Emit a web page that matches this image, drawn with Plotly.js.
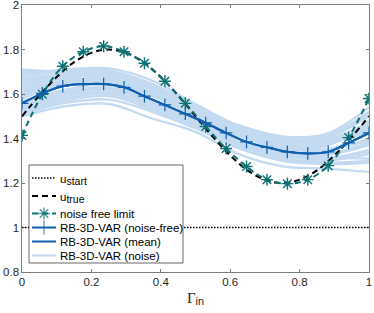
<!DOCTYPE html>
<html>
<head>
<meta charset="utf-8">
<script src="https://cdn.plot.ly/plotly-3.0.1.min.js"></script>
<style>html,body{margin:0;padding:0;background:#fff;}#chart{width:374px;height:313px;}</style>
</head>
<body>
<div id="chart"></div>
<script>
// grid for noise-free limit and RB-3D-VAR (18 points)
const xGrid = [0, 0.0588, 0.1176, 0.1765, 0.2353, 0.2941, 0.3529, 0.4118, 0.4706, 0.5294, 0.5882, 0.6471, 0.7059, 0.7647, 0.8235, 0.8824, 0.9412, 1];
const noiseFreeLimit = [1.414, 1.599, 1.725, 1.79, 1.815, 1.79, 1.738, 1.657, 1.558, 1.454, 1.355, 1.274, 1.215, 1.197, 1.215, 1.278, 1.404, 1.58];
const rbNoiseFree = [1.558, 1.603, 1.635, 1.644, 1.645, 1.630, 1.590, 1.551, 1.511, 1.470, 1.425, 1.385, 1.360, 1.340, 1.333, 1.340, 1.380, 1.425];
const rbMean = [1.558, 1.603, 1.635, 1.644, 1.645, 1.630, 1.590, 1.551, 1.511, 1.470, 1.425, 1.385, 1.360, 1.340, 1.333, 1.340, 1.380, 1.425];

// u_true read at 21 points
const xTrue = [0, 0.05, 0.1, 0.15, 0.2, 0.25, 0.3, 0.35, 0.4, 0.45, 0.5, 0.55, 0.6, 0.65, 0.7, 0.75, 0.8, 0.85, 0.9, 0.95, 1];
const uTrue = [1.5, 1.593, 1.676, 1.743, 1.785, 1.8, 1.785, 1.743, 1.676, 1.593, 1.5, 1.407, 1.324, 1.257, 1.215, 1.2, 1.215, 1.257, 1.324, 1.407, 1.5];

const uStartX = [0, 1];
const uStart = [1, 1];

// noisy runs read at 9 points
const xNoise = [0, 0.125, 0.25, 0.375, 0.5, 0.625, 0.75, 0.875, 1];
const noiseRun1 = [1.71, 1.70, 1.70, 1.64, 1.54, 1.45, 1.39, 1.38, 1.44];
const noiseRun2 = [1.69, 1.71, 1.715, 1.66, 1.555, 1.455, 1.39, 1.40, 1.50];
const noiseRun3 = [1.67, 1.69, 1.70, 1.645, 1.545, 1.46, 1.41, 1.42, 1.54];
const noiseRun4 = [1.65, 1.68, 1.69, 1.63, 1.53, 1.44, 1.39, 1.41, 1.52];
const noiseRun5 = [1.63, 1.67, 1.68, 1.62, 1.525, 1.43, 1.37, 1.37, 1.46];
const noiseRun6 = [1.60, 1.65, 1.665, 1.60, 1.51, 1.415, 1.355, 1.35, 1.42];
const noiseRun7 = [1.58, 1.64, 1.655, 1.59, 1.50, 1.41, 1.36, 1.365, 1.48];
const noiseRun8 = [1.56, 1.62, 1.64, 1.575, 1.485, 1.395, 1.34, 1.33, 1.38];
const noiseRun9 = [1.54, 1.60, 1.62, 1.56, 1.475, 1.385, 1.325, 1.31, 1.35];
const noiseRun10 = [1.52, 1.58, 1.60, 1.54, 1.46, 1.37, 1.31, 1.30, 1.33];
const noiseRun11 = [1.51, 1.56, 1.575, 1.52, 1.445, 1.355, 1.30, 1.285, 1.29];
const noiseRun12 = [1.50, 1.545, 1.555, 1.49, 1.43, 1.33, 1.275, 1.265, 1.25];
const noiseRun13 = [1.68, 1.70, 1.69, 1.62, 1.52, 1.425, 1.36, 1.35, 1.39];
const noiseRun14 = [1.62, 1.66, 1.67, 1.61, 1.52, 1.435, 1.38, 1.385, 1.45];
const noiseRun15 = [1.57, 1.61, 1.625, 1.565, 1.48, 1.39, 1.33, 1.315, 1.31];
const noiseRun16 = [1.66, 1.685, 1.685, 1.625, 1.535, 1.445, 1.385, 1.39, 1.47];
const noiseRun17 = [1.70, 1.705, 1.705, 1.645, 1.545, 1.45, 1.395, 1.395, 1.47];
const noiseRun18 = [1.64, 1.675, 1.685, 1.625, 1.53, 1.44, 1.38, 1.38, 1.43];
const noiseRun19 = [1.61, 1.655, 1.67, 1.605, 1.515, 1.425, 1.37, 1.375, 1.44];
const noiseRun20 = [1.59, 1.645, 1.66, 1.595, 1.505, 1.415, 1.35, 1.345, 1.40];
const noiseRun21 = [1.55, 1.61, 1.63, 1.57, 1.48, 1.39, 1.335, 1.325, 1.37];
const noiseRun22 = [1.53, 1.59, 1.61, 1.55, 1.465, 1.375, 1.32, 1.31, 1.34];
const noiseRun23 = [1.515, 1.57, 1.59, 1.53, 1.45, 1.36, 1.305, 1.29, 1.30];
const noiseRun24 = [1.66, 1.69, 1.695, 1.64, 1.545, 1.455, 1.40, 1.41, 1.51];
const noiseRuns = [noiseRun1, noiseRun2, noiseRun3, noiseRun4, noiseRun5, noiseRun6, noiseRun7, noiseRun8,
  noiseRun9, noiseRun10, noiseRun11, noiseRun12, noiseRun13, noiseRun14, noiseRun15, noiseRun16,
  noiseRun17, noiseRun18, noiseRun19, noiseRun20, noiseRun21, noiseRun22, noiseRun23, noiseRun24];

const xTicks = [0, 0.2, 0.4, 0.6, 0.8, 1];
const xTickText = ['0', '0.2', '0.4', '0.6', '0.8', '1'];
const yTicks = [0.8, 1, 1.2, 1.4, 1.6, 1.8, 2];
const yTickText = ['0.8', '1', '1.2', '1.4', '1.6', '1.8', '2'];

const legendLabels = ['u<sub><span style="font-size:10.5px">start</span></sub>',
  'u<sub><span style="font-size:10.5px">true</span></sub>', 'noise free limit',
  'RB-3D-VAR (noise-free)', 'RB-3D-VAR (mean)', 'RB-3D-VAR (noise)'];

const cTeal = '#0d7272';
const cBlue = '#0f5fae';
const cLight = '#c3daf1';
const FONT = 'Liberation Sans, Arial, sans-serif';

const traces = [];
noiseRuns.forEach((run) => {
  traces.push({
    x: xNoise, y: run, type: 'scatter', mode: 'lines',
    line: {color: cLight, width: 2.3, shape: 'spline'},
    showlegend: false, hoverinfo: 'skip'
  });
});
traces.push({x: uStartX, y: uStart, type: 'scatter', mode: 'lines', showlegend: false,
  line: {color: '#000', width: 1.6, dash: '1.5px,1.5px'}});
traces.push({x: xTrue, y: uTrue, type: 'scatter', mode: 'lines', showlegend: false,
  line: {color: '#000', width: 2, dash: '6px,4px', shape: 'spline'}});
traces.push({x: xGrid, y: noiseFreeLimit, type: 'scatter', mode: 'lines+markers', showlegend: false,
  line: {color: cTeal, width: 2, dash: '6px,4px', shape: 'spline'},
  marker: {symbol: 'asterisk-open', size: 10, color: cTeal, line: {color: cTeal, width: 1.4}}});
traces.push({x: xGrid, y: rbMean, type: 'scatter', mode: 'lines', showlegend: false,
  line: {color: cBlue, width: 2, shape: 'spline'}});
traces.push({x: xGrid, y: rbNoiseFree, type: 'scatter', mode: 'lines+markers', showlegend: false,
  line: {color: cBlue, width: 2, shape: 'spline'},
  marker: {symbol: 'cross-thin-open', size: 9, color: cBlue, line: {color: cBlue, width: 1.2}}});

// ---- legend, drawn on an overlay axis pair measured in page pixels ----
const LX0 = 29, LX1 = 183, LY0 = 165, LY1 = 263;
const rowY = [178, 196, 213.5, 227.5, 241.5, 255.5];
const sX0 = 32, sX1 = 56, sXm = 44, tX = 58;
const leg = {xaxis: 'x2', yaxis: 'y2', type: 'scatter', showlegend: false, hoverinfo: 'skip'};
traces.push(Object.assign({}, leg, {x: [LX0, LX1, LX1, LX0, LX0], y: [LY0, LY0, LY1, LY1, LY0], mode: 'lines',
  fill: 'toself', fillcolor: '#fff', line: {color: '#262626', width: 0.7}}));
traces.push(Object.assign({}, leg, {x: [sX0, sX1], y: [rowY[0], rowY[0]], mode: 'lines',
  line: {color: '#000', width: 1.6, dash: '1.5px,1.5px'}}));
traces.push(Object.assign({}, leg, {x: [sX0, sX1], y: [rowY[1], rowY[1]], mode: 'lines',
  line: {color: '#000', width: 2, dash: '6px,4px'}}));
traces.push(Object.assign({}, leg, {x: [sX0, sXm, sX1], y: [rowY[2], rowY[2], rowY[2]], mode: 'lines+markers',
  line: {color: cTeal, width: 2, dash: '6px,4px'},
  marker: {symbol: 'asterisk-open', size: [0, 10, 0], color: cTeal, line: {color: cTeal, width: 1.4}}}));
traces.push(Object.assign({}, leg, {x: [sX0, sXm, sX1], y: [rowY[3], rowY[3], rowY[3]], mode: 'lines+markers',
  line: {color: cBlue, width: 2},
  marker: {symbol: 'cross-thin-open', size: [0, 10, 0], color: cBlue, line: {color: cBlue, width: 1.2}}}));
traces.push(Object.assign({}, leg, {x: [sX0, sX1], y: [rowY[4], rowY[4]], mode: 'lines',
  line: {color: cBlue, width: 2}}));
traces.push(Object.assign({}, leg, {x: [sX0, sX1], y: [rowY[5], rowY[5]], mode: 'lines',
  line: {color: cLight, width: 2}}));

const annotations = legendLabels.map((t, i) => ({
  xref: 'x2', yref: 'y2', x: tX, y: rowY[i] + (i < 2 ? 2 : 0), text: t, showarrow: false,
  xanchor: 'left', yanchor: 'middle', font: {family: FONT, size: 11.5, color: '#000'}
}));

const layout = {
  width: 374, height: 313,
  margin: {l: 22, r: 5, t: 5, b: 41},
  paper_bgcolor: '#fff', plot_bgcolor: '#fff',
  font: {family: FONT, size: 11.5, color: '#262626'},
  showlegend: false,
  annotations: annotations,
  xaxis: {
    range: [0, 1], tickvals: xTicks, ticktext: xTickText,
    ticks: 'inside', ticklen: 3, tickcolor: '#262626', tickwidth: 0.6,
    showline: true, linecolor: '#262626', linewidth: 0.6, mirror: 'ticks',
    showgrid: false, zeroline: false, ticklabeloverflow: 'allow',
    tickfont: {family: FONT, size: 11.5, color: '#262626'},
    title: {text: '<span style="font-family:Liberation Serif;font-size:15px">Γ</span><sub><span style="font-size:11px">in</span></sub>', font: {family: FONT, size: 12, color: '#262626'}, standoff: 6}
  },
  yaxis: {
    range: [0.8, 2], tickvals: yTicks, ticktext: yTickText,
    ticks: 'inside', ticklen: 3, tickcolor: '#262626', tickwidth: 0.6,
    showline: true, linecolor: '#262626', linewidth: 0.6, mirror: 'ticks',
    showgrid: false, zeroline: false, ticklabeloverflow: 'allow',
    tickfont: {family: FONT, size: 11.5, color: '#262626'}
  },
  xaxis2: {overlaying: 'x', range: [22, 369], visible: false, fixedrange: true},
  yaxis2: {overlaying: 'y', range: [272, 5], visible: false, fixedrange: true}
};

Plotly.newPlot('chart', traces, layout, {displayModeBar: false, staticPlot: true});
</script>
</body>
</html>
